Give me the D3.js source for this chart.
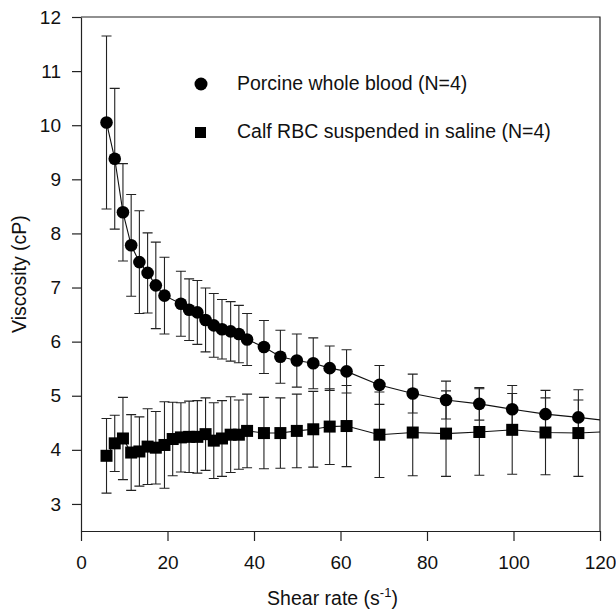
<!DOCTYPE html>
<html>
<head>
<meta charset="utf-8">
<script src="https://cdn.jsdelivr.net/npm/d3@7"></script>
<style>
  body { margin: 0; background: #fff; }
  text { font-family: "Liberation Sans", Arial, Helvetica, sans-serif; fill: #111; }
</style>
</head>
<body>
<div id="chart"></div>
<script>
// shear rates (1/s), last one falls just past the axis
var shearRates = [5.9, 7.8, 9.7, 11.6, 13.5, 15.4, 17.3, 19.3, 21.2, 23.1, 25.0, 26.9, 28.8, 30.7, 32.6, 34.6,
    36.5, 38.4, 42.3, 46.1, 49.9, 53.7, 57.5, 61.4, 69.0, 76.7, 84.4, 92.1, 99.7, 107.4, 115.0, 122.7];

// porcine whole blood (no reading at 21.2)
var porcineMean = [10.05, 9.38, 8.39, 7.78, 7.47, 7.27, 7.04, 6.85, null, 6.70, 6.59, 6.54, 6.40, 6.30, 6.23, 6.19,
    6.14, 6.04, 5.90, 5.72, 5.65, 5.60, 5.51, 5.45, 5.20, 5.04, 4.92, 4.85, 4.75, 4.66, 4.60, 4.53];
var porcineSD = [1.60, 1.30, 0.90, 0.94, 0.95, 0.74, 0.80, 0.71, null, 0.60, 0.57, 0.59, 0.59, 0.59, 0.55, 0.55,
    0.53, 0.48, 0.49, 0.49, 0.49, 0.47, 0.41, 0.40, 0.36, 0.36, 0.35, 0.30, 0.29, 0.30, 0.32, 0.32];

// calf RBC in saline
var calfMean = [3.89, 4.12, 4.21, 3.95, 3.97, 4.06, 4.04, 4.09, 4.20, 4.23, 4.24, 4.24, 4.29, 4.17, 4.21, 4.28,
    4.28, 4.35, 4.31, 4.31, 4.35, 4.38, 4.43, 4.44, 4.28, 4.32, 4.30, 4.33, 4.37, 4.32, 4.31, 4.34];
var calfSD = [0.69, 0.52, 0.76, 0.70, 0.64, 0.70, 0.67, 0.80, 0.68, 0.64, 0.66, 0.67, 0.67, 0.70, 0.70, 0.70,
    0.64, 0.68, 0.66, 0.65, 0.68, 0.70, 0.70, 0.75, 0.79, 0.80, 0.79, 0.80, 0.82, 0.78, 0.80, 0.80];

var yTicks = [3, 4, 5, 6, 7, 8, 9, 10, 11, 12];
var xTicks = [0, 20, 40, 60, 80, 100, 120];
var legendLabels = ["Porcine whole blood (N=4)", "Calf RBC suspended in saline (N=4)"];

var svgWidth = 616;
var svgHeight = 612;
var margin = { top: 17, left: 81, right: 16, bottom: 81 };
var chartWidth = svgWidth - margin.left - margin.right;
var chartHeight = svgHeight - margin.top - margin.bottom;

var svg = d3.select('#chart').append('svg').attr('width', svgWidth).attr('height', svgHeight);
var chartGroup = svg.append('g').attr('transform', `translate(${margin.left},${margin.top})`);

var xScale = d3.scaleLinear().domain([0, 120]).range([0, chartWidth]);
var yScale = d3.scaleLinear().domain([2.5, 12]).range([chartHeight, 0]);

// clip so the line segment past 120 stops at the frame
svg.append('defs').append('clipPath').attr('id', 'plotClip')
    .append('rect').attr('width', chartWidth).attr('height', chartHeight);

// build point lists
var porcine = shearRates.map((x, i) => ({ x: x, y: porcineMean[i], sd: porcineSD[i] })).filter(d => d.y != null);
var calf = shearRates.map((x, i) => ({ x: x, y: calfMean[i], sd: calfSD[i] }));

// axes
var bottomAxis = d3.axisBottom(xScale).tickValues(xTicks).tickSize(10).tickPadding(15).tickSizeOuter(0);
var leftAxis = d3.axisLeft(yScale).tickValues(yTicks).tickSize(9).tickPadding(11).tickSizeOuter(0);

chartGroup.append('g')
    .attr('transform', `translate(0,${chartHeight})`)
    .call(bottomAxis)
    .call(g => g.selectAll('text').style('font-size', '19px'));

chartGroup.append('g')
    .call(leftAxis)
    .call(g => g.selectAll('text').style('font-size', '19px'));

chartGroup.selectAll('.domain, .tick line').attr('stroke', '#222').attr('stroke-width', 1.2);

// frame top and right
chartGroup.append('path')
    .attr('d', `M0,0H${chartWidth}V${chartHeight}`)
    .attr('fill', 'none').attr('stroke', '#222').attr('stroke-width', 1.2);

var plot = chartGroup.append('g').attr('clip-path', 'url(#plotClip)');

// error bars
function drawErrors(data) {
    var g = plot.append('g').attr('stroke', '#222').attr('stroke-width', 1.1).attr('fill', 'none');
    g.selectAll('path').data(data).enter().append('path')
        .attr('d', d => {
            var x = xScale(d.x), y0 = yScale(d.y - d.sd), y1 = yScale(d.y + d.sd);
            return `M${x},${y0}V${y1}M${x - 5},${y1}H${x + 5}M${x - 5},${y0}H${x + 5}`;
        });
}
drawErrors(calf);
drawErrors(porcine);

// connecting lines
var line = d3.line().x(d => xScale(d.x)).y(d => yScale(d.y));
[porcine, calf].forEach(data => {
    plot.append('path').datum(data).attr('d', line)
        .attr('fill', 'none').attr('stroke', '#111').attr('stroke-width', 1.1);
});

// markers
plot.append('g').selectAll('circle').data(porcine).enter().append('circle')
    .attr('cx', d => xScale(d.x)).attr('cy', d => yScale(d.y))
    .attr('r', 6.3).attr('fill', '#000');

plot.append('g').selectAll('rect').data(calf).enter().append('rect')
    .attr('x', d => xScale(d.x) - 6).attr('y', d => yScale(d.y) - 6)
    .attr('width', 12).attr('height', 12).attr('fill', '#000');

// legend
var legend = svg.append('g');
legend.append('circle').attr('cx', 201).attr('cy', 84).attr('r', 6.5).attr('fill', '#000');
legend.append('text').attr('x', 237).attr('y', 90).style('font-size', '19.5px').text(legendLabels[0]);
legend.append('rect').attr('x', 195).attr('y', 127).attr('width', 11).attr('height', 11).attr('fill', '#000');
legend.append('text').attr('x', 237).attr('y', 138).style('font-size', '19.5px').text(legendLabels[1]);

// axis titles
var xTitle = svg.append('text')
    .attr('x', margin.left + chartWidth / 2 - 8).attr('y', 605)
    .attr('text-anchor', 'middle').style('font-size', '19.5px');
xTitle.append('tspan').text('Shear rate (s');
xTitle.append('tspan').attr('dy', -8).style('font-size', '13px').text('-1');
xTitle.append('tspan').attr('dy', 8).text(')');

svg.append('text')
    .attr('transform', `translate(26,${margin.top + chartHeight / 2}) rotate(-90)`)
    .attr('text-anchor', 'middle').style('font-size', '19.5px')
    .text('Viscosity (cP)');
</script>
</body>
</html>
